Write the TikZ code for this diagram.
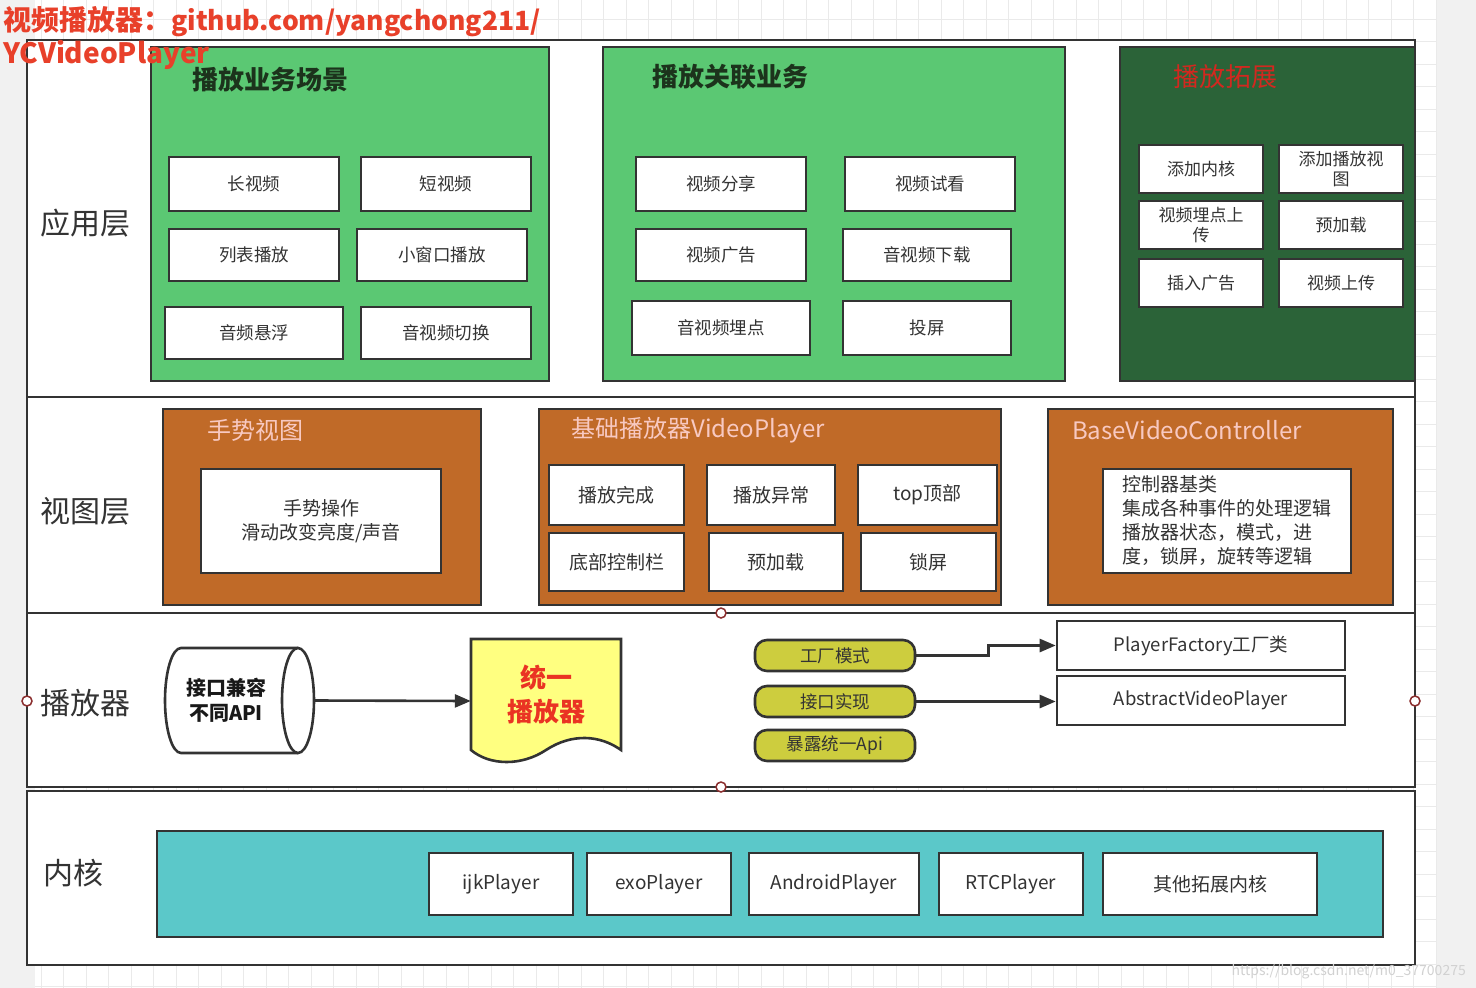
\documentclass[tikz,border=0pt]{standalone}
\usepackage{fontspec}
\setmainfont{Noto Sans CJK SC}
\usetikzlibrary{arrows.meta}
\definecolor{bd}{HTML}{333333}
\definecolor{txt}{HTML}{333333}
\definecolor{grn}{HTML}{5BC873}
\definecolor{dgrn}{HTML}{2B6338}
\definecolor{org}{HTML}{C06A28}
\definecolor{pnk}{HTML}{F8C9C2}
\definecolor{tealk}{HTML}{5BC8C9}
\definecolor{olv}{HTML}{CDCD3E}
\definecolor{yel}{HTML}{FFFF80}
\definecolor{redt}{HTML}{D2281F}
\definecolor{redtitle}{HTML}{E8402A}
\definecolor{redbold}{HTML}{EA3323}
\definecolor{gtitle}{HTML}{1C331C}
\definecolor{bgc}{HTML}{F1F1F1}
\definecolor{gridc}{HTML}{EAEAEA}
\definecolor{ptc}{HTML}{8B2E2E}
\begin{document}
\begin{tikzpicture}[x=1pt,y=-1pt,
  wbox/.style={draw=bd, line width=2.6pt, fill=white, inner sep=0pt, text=txt, align=center, font=\fontsize{17.5}{21}\selectfont},
  mbox/.style={wbox, font=\fontsize{19}{24}\selectfont},
  group/.style={draw=bd, line width=2.6pt, inner sep=0pt},
  lane/.style={draw=bd, line width=2.6pt, fill=white},
  lanelabel/.style={text=txt, font=\fontsize{30}{34}\selectfont, inner sep=0pt},
  gtitlest/.style={text=gtitle, font=\bfseries\fontsize{26}{30}\selectfont, inner sep=0pt},
  otitle/.style={text=pnk, font=\fontsize{24}{28}\selectfont, inner sep=0pt, anchor=west},
  pill/.style={draw=bd, line width=2.6pt, fill=olv, rounded corners=12pt, inner sep=0pt, text=txt, font=\fontsize{17.5}{21}\selectfont, minimum width=160, minimum height=31},
  conn/.style={draw=bd, line width=2.6pt, -{Triangle[length=16pt,width=13pt]}},
  cpoint/.style={circle, draw=ptc, fill=white, line width=1.5pt, minimum size=10, inner sep=0pt},
  ttl/.style={font=\bfseries\fontsize{28}{32}\selectfont, inner sep=0pt, anchor=base west}
]
\useasboundingbox (0,0) rectangle (1476,988);
% background
\fill[bgc] (0,0) rectangle (1476,988);
\fill[white] (35,0) rectangle (1436,988);
\foreach \i in {0,...,62} \draw[gridc, line width=1pt] ({41+22.5*\i},0) -- ({41+22.5*\i},988);
\foreach \j in {0,...,43} \draw[gridc, line width=1pt] (35,{19.3+22.5*\j}) -- (1436,{19.3+22.5*\j});

% lanes
\draw[lane] (27,40) rectangle (1415,787);
\draw[bd, line width=2.6pt] (27,397) -- (1415,397);
\draw[bd, line width=2.6pt] (27,613) -- (1415,613);
\draw[lane] (27,791) rectangle (1415,965);

\node[lanelabel] (L1) at (85,223) {应用层};
\node[lanelabel] (L2) at (85,511) {视图层};
\node[lanelabel] (L3) at (85,703) {播放器};
\node[lanelabel] (L4) at (73,873) {内核};

% ---- lane 1
\node[group, fill=grn, minimum width=398, minimum height=334] (g1) at (350,214) {};
\node[gtitlest] (g1t) at (270,80) {播放业务场景};
\node[wbox, minimum width=170, minimum height=54] (a1) at (254,184) {长视频};
\node[wbox, minimum width=170, minimum height=54] (a2) at (446,184) {短视频};
\node[wbox, minimum width=170, minimum height=52] (a3) at (254,255) {列表播放};
\node[wbox, minimum width=170, minimum height=52] (a4) at (442,255) {小窗口播放};
\node[wbox, minimum width=178, minimum height=52] (a5) at (254,333) {音频悬浮};
\node[wbox, minimum width=170, minimum height=52] (a6) at (446,333) {音视频切换};

\node[group, fill=grn, minimum width=462, minimum height=334] (g2) at (834,214) {};
\node[gtitlest] (g2t) at (730,77) {播放关联业务};
\node[wbox, minimum width=170, minimum height=54] (b1) at (721,184) {视频分享};
\node[wbox, minimum width=170, minimum height=54] (b2) at (930,184) {视频试看};
\node[wbox, minimum width=170, minimum height=52] (b3) at (721,255) {视频广告};
\node[wbox, minimum width=168, minimum height=52] (b4) at (927,255) {音视频下载};
\node[wbox, minimum width=178, minimum height=54] (b5) at (721,328) {音视频埋点};
\node[wbox, minimum width=168, minimum height=54] (b6) at (927,328) {投屏};

\node[group, fill=dgrn, minimum width=295, minimum height=334] (g3) at (1267.5,214) {};
\node[text=redt, font=\fontsize{26}{30}\selectfont, inner sep=0pt] (g3t) at (1225,77) {播放拓展};
\node[wbox, font=\fontsize{17}{20}\selectfont, minimum width=124, minimum height=48] (c1) at (1201,169) {添加内核};
\node[wbox, font=\fontsize{17}{20}\selectfont, minimum width=124, minimum height=48] (c2) at (1341,169) {添加播放视\\图};
\node[wbox, font=\fontsize{17}{20}\selectfont, minimum width=124, minimum height=48] (c3) at (1201,225) {视频埋点上\\传};
\node[wbox, font=\fontsize{17}{20}\selectfont, minimum width=124, minimum height=48] (c4) at (1341,225) {预加载};
\node[wbox, font=\fontsize{17}{20}\selectfont, minimum width=124, minimum height=48] (c5) at (1201,283) {插入广告};
\node[wbox, font=\fontsize{17}{20}\selectfont, minimum width=124, minimum height=48] (c6) at (1341,283) {视频上传};

% ---- lane 2
\node[group, fill=org, minimum width=318, minimum height=196] (o1) at (322,507) {};
\node[otitle] (o1t) at (207,430) {手势视图};
\node[mbox, minimum width=240, minimum height=104] (d1) at (321,521) {手势操作\\滑动改变亮度/声音};

\node[group, fill=org, minimum width=462, minimum height=196] (o2) at (770,507) {};
\node[otitle] (o2t) at (571,430) {基础播放器VideoPlayer};
\node[mbox, minimum width=135, minimum height=60] (e1) at (616.5,495) {播放完成};
\node[mbox, minimum width=128, minimum height=60] (e2) at (771,495) {播放异常};
\node[mbox, minimum width=139, minimum height=60] (e3) at (927.5,495) {top顶部};
\node[mbox, minimum width=135, minimum height=58] (e4) at (616.5,562) {底部控制栏};
\node[mbox, minimum width=134, minimum height=58] (e5) at (776,562) {预加载};
\node[mbox, minimum width=135, minimum height=58] (e6) at (928.5,562) {锁屏};

\node[group, fill=org, minimum width=345, minimum height=196] (o3) at (1220.5,507) {};
\node[otitle] (o3t) at (1072,430) {BaseVideoController};
\node[mbox, align=left, minimum width=248, minimum height=104] (f1) at (1227,521) {控制器基类\\集成各种事件的处理逻辑\\播放器状态，模式，进\\度，锁屏，旋转等逻辑};

% ---- lane 3
\draw[bd, line width=2.6pt, fill=white] (298,648) -- (181,648) arc[start angle=270, end angle=90, x radius=16, y radius=52.5] -- (298,753);
\draw[bd, line width=2.6pt, fill=white] (298,700.5) ellipse[x radius=16, y radius=52.5];
\node[inner sep=0pt, minimum width=150, minimum height=105] (cyl) at (240,700.5) {};
\node[inner sep=0pt, align=center, text=black!90, font=\bfseries\fontsize{20}{25}\selectfont] (cylt) at (226,700.5) {接口兼容\\不同API};

\draw[bd, line width=2.6pt, fill=yel] (471,639) -- (621,639) -- (621,750)
  .. controls (600,735) and (572,733) .. (546,750)
  .. controls (522,766) and (490,766) .. (471,750) -- cycle;
\node[inner sep=0pt, minimum width=150, minimum height=124] (doc) at (546,701) {};
\node[text=redbold, font=\bfseries\fontsize{26}{34}\selectfont, align=center, inner sep=0pt] (doct) at (546,694) {统一\\播放器};

\draw[conn] (cyl.east) -- (doc.west);

\node[pill] (p1) at (835,655.5) {工厂模式};
\node[pill] (p2) at (835,701.5) {接口实现};
\node[pill] (p3) at (835,745.5) {暴露统一Api};

\node[wbox, font=\fontsize{18.5}{22}\selectfont, minimum width=288, minimum height=49] (r1) at (1201,645.5) {PlayerFactory工厂类};
\node[wbox, font=\fontsize{18.5}{22}\selectfont, minimum width=288, minimum height=49] (r2) at (1201,700.5) {AbstractVideoPlayer};

\draw[conn] (p1.east) -- ++(72,0) |- (r1.west);
\draw[conn] (p2.east) -- (p2.east -| r2.west);

% connection points
\node[cpoint] (cp1) at (721,613) {};
\node[cpoint] (cp2) at (721,787) {};
\node[cpoint] (cp3) at (27,701) {};
\node[cpoint] (cp4) at (1415,701) {};

% ---- lane 4
\node[group, fill=tealk, minimum width=1226, minimum height=106] (tk) at (770,884) {};
\node[mbox, minimum width=144, minimum height=62] (k1) at (501,884) {ijkPlayer};
\node[mbox, minimum width=144, minimum height=62] (k2) at (659,884) {exoPlayer};
\node[mbox, minimum width=170, minimum height=62] (k3) at (834,884) {AndroidPlayer};
\node[mbox, minimum width=144, minimum height=62] (k4) at (1011,884) {RTCPlayer};
\node[mbox, minimum width=214, minimum height=62] (k5) at (1210,884) {其他拓展内核};

% watermark
\node[text=black!18, font=\fontsize{14}{16}\selectfont, inner sep=0pt, anchor=base east] (wm) at (1466,975) {https://blog.csdn.net/m0\_37700275};

% title
\node[ttl, text=redtitle] (t1) at (3,30) {视频播放器：{\fontsize{26.5}{32}\selectfont github.com/yangchong211/}};
\node[ttl, text=redtitle] (t2) at (3,63) {YCVideoPlayer};
\end{tikzpicture}
\end{document}
